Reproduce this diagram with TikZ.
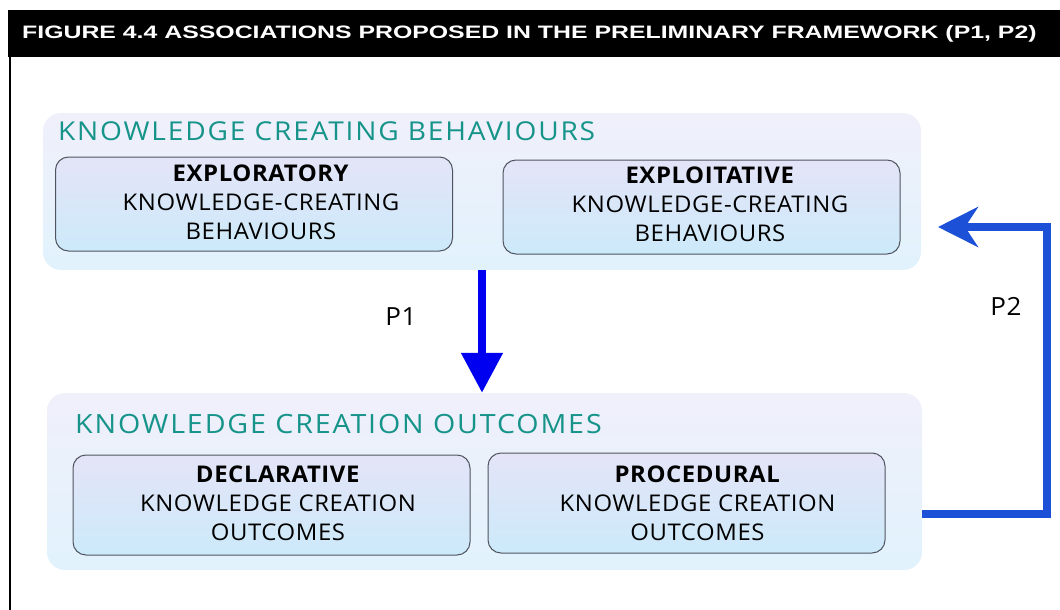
\documentclass[tikz,border=0pt]{standalone}
\usepackage{fontspec}
\setmainfont{Open Sans}[FakeStretch=1.04, LetterSpace=2.5]
\newfontfamily\headfont[FakeStretch=1.08, LetterSpace=7]{Open Sans}
\newfontfamily\titlefont[FakeStretch=1.38]{Liberation Sans}
\usepackage{xcolor}
\usetikzlibrary{arrows.meta}
\definecolor{headteal}{RGB}{22,148,138}
\definecolor{grouptop}{RGB}{240,240,251}
\definecolor{groupbottom}{RGB}{225,242,252}
\definecolor{kindtop}{RGB}{228,228,247}
\definecolor{kindbottom}{RGB}{204,234,250}
\definecolor{kindline}{RGB}{80,84,96}
\definecolor{pone}{RGB}{0,0,240}
\definecolor{ptwo}{RGB}{28,80,215}

\begin{document}
\begin{tikzpicture}[x=1pt, y=-1pt]
\tikzstyle{group}=[rounded corners=18pt, top color=grouptop, bottom color=groupbottom, inner sep=0pt]
\tikzstyle{kind}=[draw=kindline, line width=1pt, rounded corners=13pt, top color=kindtop, bottom color=kindbottom, inner sep=0pt, minimum width=397pt]
\tikzstyle{kindtext}=[anchor=north, align=center, inner sep=0pt, font=\fontsize{23}{29}\selectfont]
\tikzstyle{heading}=[anchor=base west, inner sep=0pt, text=headteal]
\tikzstyle{plabel}=[inner sep=0pt, font=\fontsize{25}{25}\selectfont]

\useasboundingbox (0,0) rectangle (1060,610);
\fill (8,10) rectangle (1060,57);
\draw[line width=2pt] (10,57) -- (10,610);
\node[anchor=base west, inner sep=0pt, text=white, font=\titlefont\bfseries\fontsize{18}{20}\selectfont] (title) at (22,39) {FIGURE 4.4 ASSOCIATIONS PROPOSED IN THE PRELIMINARY FRAMEWORK (P1, P2)};

\node[group, minimum width=878pt, minimum height=157pt] (behaviours) at (482,191.5) {};
\node[group, minimum width=875pt, minimum height=177pt] (outcomes) at (484.5,481.5) {};
\node[heading, font=\headfont\fontsize{26}{26}\selectfont] (behavhead) at (58,140) {KNOWLEDGE CREATING BEHAVIOURS};
\node[heading, font=\headfont\fontsize{26.5}{27}\selectfont] (outhead) at (75,433) {KNOWLEDGE CREATION OUTCOMES};

\node[kind, minimum height=94pt] (explor) at (254,204) {};
\node[kind, minimum height=94pt] (exploit) at (701.5,207) {};
\node[kind, minimum height=100pt] (declar) at (271.5,505) {};
\node[kind, minimum height=100pt] (proced) at (686.5,503) {};

\node[kindtext] (explortext) at (261,164.5) {\textbf{EXPLORATORY}\\KNOWLEDGE-CREATING\\BEHAVIOURS};
\node[kindtext] (exploittext) at (710,166.5) {\textbf{EXPLOITATIVE}\\KNOWLEDGE-CREATING\\BEHAVIOURS};
\node[kindtext] (declartext) at (278,465.5) {\textbf{DECLARATIVE}\\KNOWLEDGE CREATION\\OUTCOMES};
\node[kindtext] (procedtext) at (697.5,465.5) {\textbf{PROCEDURAL}\\KNOWLEDGE CREATION\\OUTCOMES};

\node[plabel] (pone) at (401,317) {P1};
\node[plabel] (ptwo) at (1006,306) {P2};

\coordinate (p2from) at (922,514);
\coordinate (p2end) at (938,227);

\draw[pone, line width=8pt, -{Triangle[length=40pt, width=40pt]}] (behaviours.south) -- (behaviours.south |- outcomes.north);
\draw[ptwo, line width=7.5pt, miter limit=4, -{Stealth[length=40pt, width=40pt, inset=13pt]}] (p2from) -| (1047,227) -- (p2end);

\end{tikzpicture}
\end{document}
